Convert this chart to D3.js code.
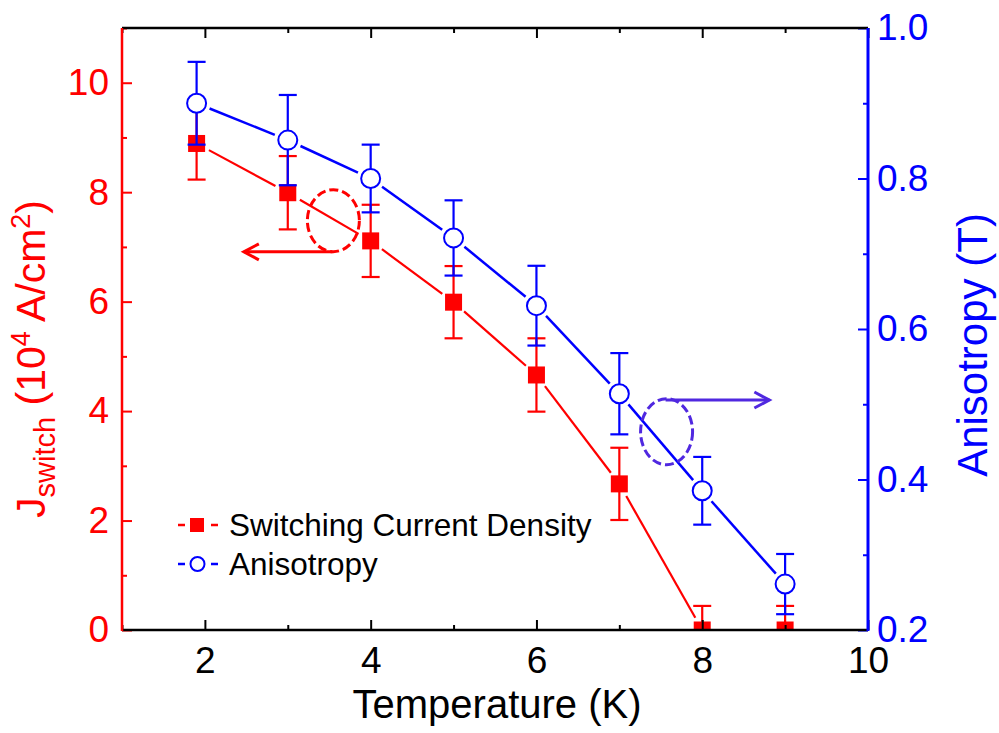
<!DOCTYPE html>
<html><head><meta charset="utf-8">
<script src="https://cdn.jsdelivr.net/npm/d3@7"></script>
<style>html,body{margin:0;padding:0;background:#fff;}svg{display:block;font-family:Arial,"Liberation Sans",sans-serif;}</style>
</head><body>
<svg id="c" width="999" height="733"></svg>
<script>
// ---- data ----
const temps      = [1.9, 3, 4, 5, 6, 7, 8, 9];
const jSwitch    = [8.89, 7.99, 7.11, 5.99, 4.66, 2.67, 0, 0];
const jErr       = [0.66, 0.67, 0.66, 0.66, 0.67, 0.66, 0.44, 0.44];
const anisotropy = [0.900, 0.851, 0.800, 0.721, 0.631, 0.514, 0.385, 0.261];
const anisErr    = [0.055, 0.060, 0.045, 0.050, 0.053, 0.054, 0.045, 0.040];
const xTicks     = [2, 4, 6, 8, 10];
const xMinor     = [1, 3, 5, 7, 9];
const yLTicks    = [0, 2, 4, 6, 8, 10];
const yLMinor    = [1, 3, 5, 7, 9, 11];
const yRTicks    = [0.2, 0.4, 0.6, 0.8, 1.0];
const yRMinor    = [0.3, 0.5, 0.7, 0.9];
const legendLabels = ["Switching Current Density", "Anisotropy"];
// annotation anchors (data units)
const redEllipse  = {x: 3.55, y: 7.48};
const redArrowTip = {x: 2.47, y: 6.91};
const bluEllipse  = {x: 7.57, y: 0.4635};
const bluArrowTip = {x: 8.81, y: 0.5056};

const RED = "#ff0000", BLUE = "#0000ff", PURPLE = "#5028e0";
const L = 122, R = 868, T = 28, B = 630;
const svg = d3.select("#c");
const x  = d3.scaleLinear().domain([1, 10]).range([L, R]);
const yL = d3.scaleLinear().domain([0, 11]).range([B, T]);
const yR = d3.scaleLinear().domain([0.2, 1.0]).range([B, T]);

svg.append("defs").append("clipPath").attr("id", "clip")
  .append("rect").attr("x", L).attr("y", T).attr("width", R - L).attr("height", B - T);
const plot = svg.append("g").attr("clip-path", "url(#clip)");

function gappedSegments(pts, gap) {
  const segs = [];
  for (let i = 0; i < pts.length - 1; i++) {
    const [x1, y1] = pts[i], [x2, y2] = pts[i + 1];
    const dx = x2 - x1, dy = y2 - y1, d = Math.hypot(dx, dy);
    if (d <= 2 * gap) continue;
    const ux = dx / d, uy = dy / d;
    segs.push([x1 + ux * gap, y1 + uy * gap, x2 - ux * gap, y2 - uy * gap]);
  }
  return segs;
}

function drawSeries(vals, errs, yS, color, lw, kind) {
  const pts = temps.map((t, i) => [x(t), yS(vals[i])]);
  const g = plot.append("g");
  g.selectAll("line.seg").data(gappedSegments(pts, 14)).enter().append("line")
    .attr("x1", d => d[0]).attr("y1", d => d[1]).attr("x2", d => d[2]).attr("y2", d => d[3])
    .attr("stroke", color).attr("stroke-width", lw);
  const eb = g.selectAll("g.eb").data(temps.map((t, i) => ({t, v: vals[i], e: errs[i]}))).enter().append("g");
  eb.append("line").attr("x1", d => x(d.t)).attr("x2", d => x(d.t))
    .attr("y1", d => yS(d.v - d.e)).attr("y2", d => yS(d.v + d.e))
    .attr("stroke", color).attr("stroke-width", 2.2);
  [-1, 1].forEach(s => {
    eb.append("line").attr("x1", d => x(d.t) - 9).attr("x2", d => x(d.t) + 9)
      .attr("y1", d => yS(d.v + s * d.e)).attr("y2", d => yS(d.v + s * d.e))
      .attr("stroke", color).attr("stroke-width", 2.2);
  });
  if (kind === "square") {
    g.selectAll("rect.m").data(pts).enter().append("rect")
      .attr("x", d => d[0] - 8.5).attr("y", d => d[1] - 8.5).attr("width", 17).attr("height", 17)
      .attr("fill", color);
  } else {
    g.selectAll("circle.m").data(pts).enter().append("circle")
      .attr("cx", d => d[0]).attr("cy", d => d[1]).attr("r", 9.5)
      .attr("fill", "#fff").attr("stroke", color).attr("stroke-width", 2);
  }
}
drawSeries(jSwitch, jErr, yL, RED, 2.2, "square");
drawSeries(anisotropy, anisErr, yR, BLUE, 2.5, "circle");

// ---- annotations ----
function annotation(c, tip, yS, color, rx, ry) {
  const cx = x(c.x), cy = yS(c.y);
  svg.append("ellipse").attr("cx", cx).attr("cy", cy).attr("rx", rx).attr("ry", ry)
    .attr("fill", "none").attr("stroke", color).attr("stroke-width", 3).attr("stroke-dasharray", "9,4");
  const ay = yS(tip.y), tx = x(tip.x);
  const sx = cx - 1;
  svg.append("line").attr("x1", sx).attr("y1", ay).attr("x2", tx).attr("y2", ay)
    .attr("stroke", color).attr("stroke-width", 3);
  const dir = tx < sx ? 1 : -1;
  svg.append("path").attr("d", `M${tx + dir * 15},${ay - 8}L${tx},${ay}L${tx + dir * 15},${ay + 8}`)
    .attr("fill", "none").attr("stroke", color).attr("stroke-width", 3);
}
annotation(redEllipse, redArrowTip, yL, RED, 26, 31);
annotation(bluEllipse, bluArrowTip, yR, PURPLE, 26, 33);

// ---- axes ----
function styleAxis(g, color, fs) {
  g.select(".domain").remove();
  g.selectAll("line").attr("stroke", color).attr("stroke-width", 2);
  g.selectAll("text").attr("fill", color).style("font-size", fs + "px")
    .style("font-family", "Arial, 'Liberation Sans', sans-serif");
}
const TF = 37;
// bottom
const gB = svg.append("g").attr("transform", `translate(0,${B})`)
  .call(d3.axisBottom(x).tickValues(xTicks).tickSize(-10).tickPadding(17).tickFormat(d3.format("d")));
styleAxis(gB, "#000", TF);
const gBm = svg.append("g").attr("transform", `translate(0,${B})`)
  .call(d3.axisBottom(x).tickValues(xMinor).tickSize(-5).tickFormat(""));
styleAxis(gBm, "#000", TF);
// top
const gT = svg.append("g").attr("transform", `translate(0,${T})`)
  .call(d3.axisTop(x).tickValues(xTicks).tickSize(-10).tickFormat(""));
styleAxis(gT, "#000", TF);
const gTm = svg.append("g").attr("transform", `translate(0,${T})`)
  .call(d3.axisTop(x).tickValues(xMinor).tickSize(-5).tickFormat(""));
styleAxis(gTm, "#000", TF);
// left
const gL = svg.append("g").attr("transform", `translate(${L},0)`)
  .call(d3.axisLeft(yL).tickValues(yLTicks).tickSize(-10).tickPadding(13).tickFormat(d3.format("d")));
styleAxis(gL, RED, TF);
const gLm = svg.append("g").attr("transform", `translate(${L},0)`)
  .call(d3.axisLeft(yL).tickValues(yLMinor).tickSize(-5).tickFormat(""));
styleAxis(gLm, RED, TF);
// right
const gR = svg.append("g").attr("transform", `translate(${R},0)`)
  .call(d3.axisRight(yR).tickValues(yRTicks).tickSize(-10).tickPadding(9).tickFormat(d3.format(".1f")));
styleAxis(gR, BLUE, TF);
const gRm = svg.append("g").attr("transform", `translate(${R},0)`)
  .call(d3.axisRight(yR).tickValues(yRMinor).tickSize(-5).tickFormat(""));
styleAxis(gRm, BLUE, TF);

// frame lines
svg.append("line").attr("x1", L).attr("x2", R).attr("y1", T).attr("y2", T).attr("stroke", "#000").attr("stroke-width", 2.5);
svg.append("line").attr("x1", L).attr("x2", R).attr("y1", B).attr("y2", B).attr("stroke", "#000").attr("stroke-width", 2.5);
svg.append("line").attr("x1", L).attr("x2", L).attr("y1", T).attr("y2", B + 1).attr("stroke", RED).attr("stroke-width", 2.5);
svg.append("line").attr("x1", R).attr("x2", R).attr("y1", T).attr("y2", B + 1).attr("stroke", BLUE).attr("stroke-width", 3);

// ---- titles ----
svg.append("text").attr("x", (L + R) / 2 + 2).attr("y", 718).attr("text-anchor", "middle")
  .style("font-size", "40px").attr("fill", "#000").text("Temperature (K)");

const lt = svg.append("text").attr("transform", `translate(45,359) rotate(-90)`)
  .attr("text-anchor", "middle").style("font-size", "41px").attr("fill", RED);
lt.append("tspan").text("J");
lt.append("tspan").attr("dy", 10).style("font-size", "29px").text("switch");
lt.append("tspan").attr("dy", -10).text(" (10");
lt.append("tspan").attr("dy", -15).style("font-size", "27px").text("4");
lt.append("tspan").attr("dy", 15).text(" A/cm");
lt.append("tspan").attr("dy", -15).style("font-size", "27px").text("2");
lt.append("tspan").attr("dy", 15).text(")");

svg.append("text").attr("transform", `translate(987,345) rotate(-90)`)
  .attr("text-anchor", "middle").style("font-size", "42px").attr("fill", BLUE).text("Anisotropy (T)");

// ---- legend ----
const lg = svg.append("g");
const items = [{c: RED, kind: "square", y: 525}, {c: BLUE, kind: "circle", y: 564}];
items.forEach((it, i) => {
  lg.append("line").attr("x1", 178).attr("x2", 185).attr("y1", it.y).attr("y2", it.y).attr("stroke", it.c).attr("stroke-width", 2.5);
  lg.append("line").attr("x1", 211).attr("x2", 218).attr("y1", it.y).attr("y2", it.y).attr("stroke", it.c).attr("stroke-width", 2.5);
  if (it.kind === "square") lg.append("rect").attr("x", 190).attr("y", it.y - 7).attr("width", 14).attr("height", 14).attr("fill", it.c);
  else lg.append("circle").attr("cx", 197.5).attr("cy", it.y).attr("r", 7).attr("fill", "#fff").attr("stroke", it.c).attr("stroke-width", 2);
  lg.append("text").attr("x", 229).attr("y", it.y + 11).style("font-size", "31.5px").attr("fill", "#000").text(legendLabels[i]);
});
</script>
</body></html>
